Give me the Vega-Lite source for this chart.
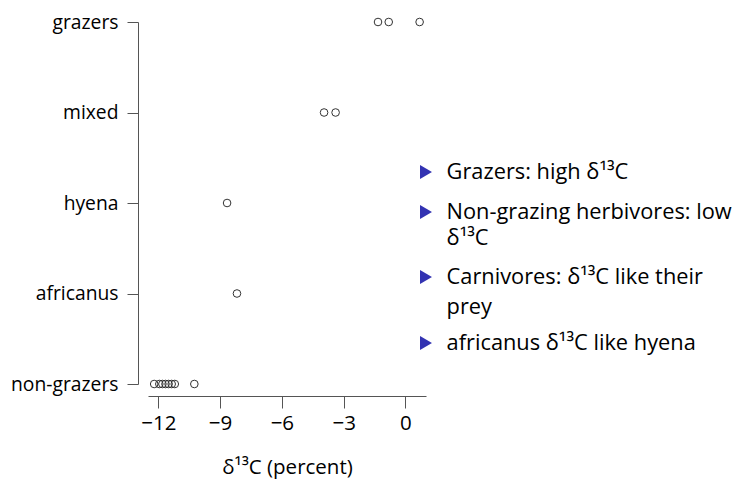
{
  "$schema": "https://vega.github.io/schema/vega-lite/v6.json",
  "autosize": "none",
  "width": 278,
  "height": 362,
  "padding": {"left": 148, "top": 22, "right": 317, "bottom": 103},
  "background": "white",
  "config": {"view": {"stroke": null}, "font": "Open Sans"},
  "datasets": {
    "samples": [
      {"group": "grazers", "d13C": -1.33},
      {"group": "grazers", "d13C": -0.81},
      {"group": "grazers", "d13C": 0.69},
      {"group": "mixed", "d13C": -3.95},
      {"group": "mixed", "d13C": -3.39},
      {"group": "hyena", "d13C": -8.66},
      {"group": "africanus", "d13C": -8.18},
      {"group": "non-grazers", "d13C": -12.2},
      {"group": "non-grazers", "d13C": -11.95},
      {"group": "non-grazers", "d13C": -11.8},
      {"group": "non-grazers", "d13C": -11.65},
      {"group": "non-grazers", "d13C": -11.5},
      {"group": "non-grazers", "d13C": -11.35},
      {"group": "non-grazers", "d13C": -11.2},
      {"group": "non-grazers", "d13C": -10.25}
    ],
    "bullets": [
      {"row": 15.0},
      {"row": 19.0},
      {"row": 25.5},
      {"row": 32.1}
    ],
    "lines": [
      {"row": 14.97, "label": "Grazers:  high δ¹³C"},
      {"row": 18.97, "label": "Non-grazing herbivores:  low"},
      {"row": 21.6, "label": "δ¹³C"},
      {"row": 25.47, "label": "Carnivores:  δ¹³C like their"},
      {"row": 28.47, "label": "prey"},
      {"row": 32.1, "label": "africanus δ¹³C like hyena"}
    ]
  },
  "resolve": {"scale": {"y": "independent"}, "axis": {"y": "independent"}},
  "layer": [
    {
      "data": {"name": "samples"},
      "mark": {"type": "point", "shape": "circle", "size": 58, "stroke": "#333333", "strokeWidth": 1, "filled": false, "opacity": 1},
      "encoding": {
        "x": {
          "field": "d13C",
          "type": "quantitative",
          "scale": {"domain": [-12.5, 1], "nice": false, "zero": false},
          "axis": {
            "title": "δ¹³C (percent)",
            "values": [-12, -9, -6, -3, 0],
            "grid": false,
            "offset": 12,
            "domainColor": "#555555",
            "tickColor": "#555555",
            "tickSize": 12,
            "labelFontSize": 20.5,
            "labelColor": "black",
            "labelPadding": 5,
            "titleFontSize": 20.5,
            "titleFontWeight": "normal",
            "titleColor": "black",
            "titlePadding": 24
          }
        },
        "y": {
          "field": "group",
          "type": "nominal",
          "scale": {"type": "point", "padding": 0, "domain": ["grazers", "mixed", "hyena", "africanus", "non-grazers"]},
          "axis": {
            "title": null,
            "offset": 10,
            "domainColor": "#555555",
            "tickColor": "#555555",
            "tickSize": 11,
            "labelFontSize": 19.3,
            "labelColor": "black",
            "labelPadding": 9
          }
        }
      }
    },
    {
      "data": {"name": "bullets"},
      "mark": {"type": "point", "shape": "triangle-right", "filled": true, "color": "#3333B2", "size": 190, "opacity": 1},
      "encoding": {
        "x": {"datum": 1.0, "type": "quantitative"},
        "y": {"field": "row", "type": "quantitative", "scale": {"domain": [0, 36.2], "reverse": true}, "axis": null}
      }
    },
    {
      "data": {"name": "lines"},
      "mark": {"type": "text", "align": "left", "baseline": "middle", "fontSize": 21.8, "color": "black"},
      "encoding": {
        "x": {"datum": 2.0, "type": "quantitative"},
        "y": {"field": "row", "type": "quantitative", "scale": {"domain": [0, 36.2], "reverse": true}, "axis": null},
        "text": {"field": "label"}
      }
    }
  ]
}
